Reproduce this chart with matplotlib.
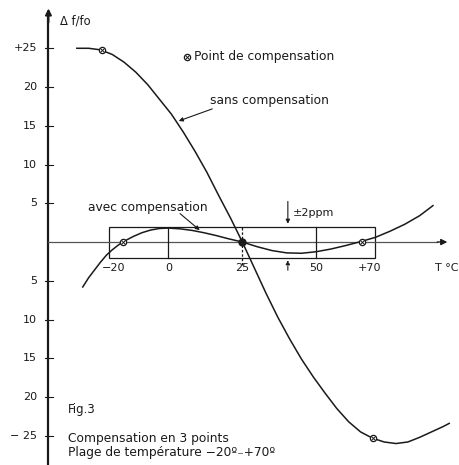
#!/usr/bin/env python3
"""Fig.3 - compensation en 3 points (redrawn from a scanned figure)."""

import matplotlib

matplotlib.use("Agg")
import matplotlib.pyplot as plt
from matplotlib.patches import Rectangle

# --- data (T in degC, df/f in ppm) ---
sans_T = [-31, -27, -23, -19, -15, -11, -7, -3, 1, 5, 9, 13, 17, 21, 25,
          29, 33, 37, 41, 45, 49, 53, 57, 61, 65, 69, 73, 77, 81, 85, 89, 93, 95]
sans_ppm = [25.0, 25.0, 24.8, 24.2, 23.2, 21.9, 20.3, 18.4, 16.5, 14.2, 11.7, 9.0, 6.0, 3.1, 0.0,
            -3.3, -6.6, -9.7, -12.5, -15.1, -17.4, -19.5, -21.5, -23.2, -24.5, -25.3, -25.8,
            -26.0, -25.8, -25.2, -24.5, -23.8, -23.4]

avec_T = [-29, -27, -25, -23, -21, -19, -17, -15, -12, -9, -6, -3, 0, 4, 8, 12, 16, 20, 25,
          30, 35, 40, 45, 50, 55, 60, 65, 70, 75, 80, 85, 89.5]
avec_ppm = [-5.8, -4.6, -3.6, -2.6, -1.7, -1.0, -0.4, 0.1, 0.7, 1.2, 1.55, 1.75, 1.8, 1.7,
            1.5, 1.2, 0.85, 0.45, 0.0, -0.6, -1.1, -1.4, -1.45, -1.25, -0.9, -0.45, 0.05,
            0.6, 1.4, 2.3, 3.4, 4.7]

comp_T = [-22.5, -15.4, 65.5, 69.2]
comp_ppm = [24.8, 0.0, 0.0, -25.3]
centre_T, centre_ppm = 25.0, 0.0

x_ticks = [-18.5, 0, 25, 50, 68]
x_labels = ["\u221220", "0", "25", "50", "+70"]
y_ticks = [25, 20, 15, 10, 5, -5, -10, -15, -20, -25]
y_labels = ["+25", "20", "15", "10", "5", "5", "10", "15", "20", "\u2212 25"]

T_min, T_max = -20, 70
tol = 2  # ppm

INK = "#1a1a1a"


def main() -> None:
    plt.rcParams["font.family"] = ["DejaVu Sans"]
    fig = plt.figure(figsize=(4.6, 4.65), dpi=100)
    ax = fig.add_axes([0, 0, 1, 1])
    ax.set_xlim(-57.0, 98.65)
    ax.set_ylim(-28.77, 31.23)
    ax.axis("off")

    fs = 8.8
    fs_tick = 8.0
    y_axis_T = -40.6

    # axes drawn by hand, like the original drawing
    ax.plot([y_axis_T, y_axis_T], [-28.77, 29.5], color=INK, lw=1.6)
    ax.annotate("", xy=(y_axis_T, 30.5), xytext=(y_axis_T, 28.0),
                arrowprops=dict(arrowstyle="-|>", color=INK, lw=1.4, mutation_scale=9))
    ax.plot([y_axis_T, 91], [0, 0], color="#555555", lw=0.9)
    ax.annotate("", xy=(95.3, 0), xytext=(90, 0),
                arrowprops=dict(arrowstyle="-|>", color=INK, lw=1.0, mutation_scale=9))

    for v, lab in zip(y_ticks, y_labels):
        ax.plot([y_axis_T - 1.2, y_axis_T + 1.6], [v, v], color=INK, lw=0.8)
        ax.text(-44.5, v, lab, ha="right", va="center", fontsize=fs_tick, color=INK)
    for v, lab in zip(x_ticks, x_labels):
        ax.text(v, -3.35, lab, ha="center", va="center", fontsize=fs_tick, color=INK)
    ax.text(94.3, -3.35, "T °C", ha="center", va="center", fontsize=fs_tick, color=INK)
    ax.text(-36.7, 28.5, "\u0394 f/fo", ha="left", va="center", fontsize=fs_tick + 0.3, color=INK)

    # tolerance box +-2 ppm over the range
    ax.add_patch(Rectangle((T_min, -tol), T_max - T_min, 2 * tol,
                           fill=False, edgecolor=INK, lw=0.9))
    ax.plot([0, 0], [-tol, 1.8], color=INK, lw=0.9)
    ax.plot([50, 50], [-tol, tol], color=INK, lw=0.9)
    ax.plot([25, 25], [-3.0, tol], color=INK, lw=0.9, ls=(0, (2, 1.5)))
    ax.annotate("", xy=(40.4, tol), xytext=(40.4, 5.6),
                arrowprops=dict(arrowstyle="-|>", color=INK, lw=0.8, mutation_scale=6))
    ax.annotate("", xy=(40.4, -tol), xytext=(40.4, -4.0),
                arrowprops=dict(arrowstyle="-|>", color=INK, lw=0.8, ls="--", mutation_scale=6))
    ax.text(42.0, 3.7, "±2ppm", ha="left", va="center", fontsize=fs_tick, color=INK)

    # curves
    ax.plot(sans_T, sans_ppm, color=INK, lw=1.1)
    ax.plot(avec_T, avec_ppm, color=INK, lw=1.1)
    ax.plot(comp_T, comp_ppm, ls="none", marker="o", ms=4.5, mfc="white", mec=INK, mew=0.9)
    ax.plot(comp_T, comp_ppm, ls="none", marker="x", ms=2.5, mec=INK, mew=0.7)
    ax.plot([centre_T], [centre_ppm], ls="none", marker="o", ms=5, color=INK)

    # labels
    ax.plot([6.3], [23.9], ls="none", marker="o", ms=4.5, mfc="white", mec=INK, mew=0.9)
    ax.plot([6.3], [23.9], ls="none", marker="x", ms=2.5, mec=INK, mew=0.7)
    ax.text(8.6, 23.9, "Point de compensation", ha="left", va="center", fontsize=fs, color=INK)

    ax.text(14.0, 18.3, "sans compensation", ha="left", va="center", fontsize=fs, color=INK)
    ax.annotate("", xy=(2.6, 15.5), xytext=(15.7, 17.3),
                arrowprops=dict(arrowstyle="-|>", color=INK, lw=0.8, mutation_scale=6))

    ax.text(-27.2, 4.5, "avec compensation", ha="left", va="center", fontsize=fs, color=INK)
    ax.annotate("", xy=(11.3, 1.3), xytext=(3.2, 3.9),
                arrowprops=dict(arrowstyle="-|>", color=INK, lw=0.8, mutation_scale=6))

    ax.text(-34.0, -21.6, "Fig.3", ha="left", va="center", fontsize=fs - 0.3, color=INK)
    ax.text(-34.0, -25.4, "Compensation en 3 points", ha="left", va="center",
            fontsize=fs, color=INK)
    ax.text(-34.0, -27.2, "Plage de température \u221220º\u208b+70º", ha="left", va="center",
            fontsize=fs, color=INK)

    fig.savefig("out.png", dpi=100, facecolor="white")
    plt.close(fig)


if __name__ == "__main__":
    main()
